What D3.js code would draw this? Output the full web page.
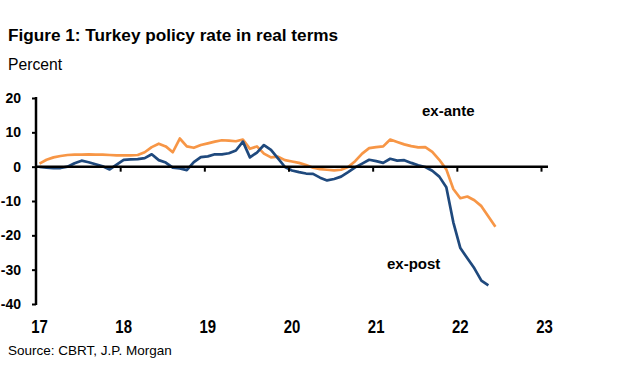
<!DOCTYPE html>
<html><head><meta charset="utf-8">
<script src="https://cdn.jsdelivr.net/npm/d3@7"></script>
<style>
body{margin:0;background:#fff;}
svg{display:block;}
text{font-family:"Liberation Sans",Arial,sans-serif;}
</style></head>
<body>
<svg id="c" width="640" height="381"></svg>
<script>
// Monthly data, Jan 2017 onward
const startYear = 2017;
const exAnte = [0.9,2.0,2.7,3.1,3.4,3.5,3.5,3.6,3.5,3.5,3.4,3.3,
  3.3,3.3,3.4,4.2,5.7,6.7,5.9,4.2,8.2,5.9,5.5,6.3,
  6.8,7.3,7.7,7.6,7.4,7.9,5.2,5.9,3.8,2.7,2.9,1.9,
  1.5,1.1,0.5,-0.3,-0.7,-0.9,-1.1,-0.9,-0.1,1.6,3.8,5.4,
  5.7,5.9,7.9,7.2,6.5,6.0,5.6,5.7,4.3,2.0,-0.8,-6.5,
  -9.2,-8.7,-9.8,-11.5,-14.5,-17.5];
const exPost = [-0.1,-0.3,-0.4,-0.4,0.0,1.0,1.75,1.3,0.7,0.1,-0.8,0.6,
  2.0,2.1,2.2,2.5,3.6,1.9,1.2,-0.3,-0.5,-1.0,1.3,2.8,
  3.0,3.6,3.6,3.9,4.7,7.3,2.7,4.1,6.3,4.9,2.4,-0.1,
  -1.1,-1.6,-2.0,-2.1,-3.2,-4.0,-3.6,-2.9,-1.6,-0.2,0.9,2.0,
  1.6,1.1,2.3,1.75,1.9,1.1,0.4,-0.1,-1.2,-2.9,-6.0,-16.2,
  -23.7,-26.7,-29.6,-33.2,-34.6];
const yTicks = [20,10,0,-10,-20,-30,-40];
const xTickLabels = ["17","18","19","20","21","22","23"];
const xTickYears = [2017,2018,2019,2020,2021,2022,2023];

const svg = d3.select("#c");
const x = d3.scaleLinear().domain([2017, 2023]).range([36, 541]);
const y = d3.scaleLinear().domain([-40, 20]).range([304, 98]);
const mx = i => startYear + (i + 0.5) / 12;

// Title etc
svg.append("text").attr("x",8).attr("y",41)
  .attr("font-size",17.2).attr("font-weight","bold").attr("fill","#000")
  .text("Figure 1: Turkey policy rate in real terms");
svg.append("text").attr("x",8).attr("y",70)
  .attr("font-size",15.7).attr("fill","#000").text("Percent");
svg.append("text").attr("x",8).attr("y",355)
  .attr("font-size",13.5).attr("fill","#000").text("Source: CBRT, J.P. Morgan");

// Y axis
const yAxis = d3.axisLeft(y).tickValues(yTicks).tickSize(4).tickPadding(11).tickFormat(d => String(d));
const gy = svg.append("g").attr("transform","translate(36,0)").call(yAxis);
gy.select(".domain").attr("stroke","#000").attr("stroke-width",2.5).attr("d","M0,97V305");
gy.selectAll(".tick line").attr("stroke","#000").attr("stroke-width",2);
gy.selectAll(".tick text").attr("font-size",14).attr("font-weight","bold")
  .attr("fill","#000").attr("font-family","Liberation Sans, Arial, sans-serif");

// Lines
const line = d3.line().x((d,i)=>x(mx(i))).y(d=>y(d));
svg.append("path").datum(exAnte).attr("d",line).attr("fill","none")
  .attr("stroke","#F79646").attr("stroke-width",2.7).attr("stroke-linejoin","round");
svg.append("path").datum(exPost).attr("d",line).attr("fill","none")
  .attr("stroke","#1F497D").attr("stroke-width",2.7).attr("stroke-linejoin","round");

// X axis at 0
const xAxis = d3.axisBottom(x).tickValues(xTickYears.slice(1)).tickSize(5).tickFormat("");
const gx = svg.append("g").attr("transform",`translate(0,${y(0)})`).call(xAxis);
gx.select(".domain").attr("stroke","#000").attr("stroke-width",2.5).attr("d","M36,0H548");
gx.selectAll(".tick line").attr("stroke","#000").attr("stroke-width",2);

// X tick labels along bottom (condensed bold)
svg.append("g").selectAll("text").data(xTickYears).join("text")
  .attr("transform",(d)=>`translate(${x(d)+3.5},333) scale(0.83,1)`)
  .attr("text-anchor","middle").attr("font-size",18).attr("font-weight","bold")
  .text((d,i)=>xTickLabels[i]);

// Series labels
svg.append("text").attr("x",422).attr("y",116)
  .attr("font-size",15).attr("font-weight","bold").text("ex-ante");
svg.append("text").attr("x",387).attr("y",269)
  .attr("font-size",15).attr("font-weight","bold").text("ex-post");
</script>
</body></html>
